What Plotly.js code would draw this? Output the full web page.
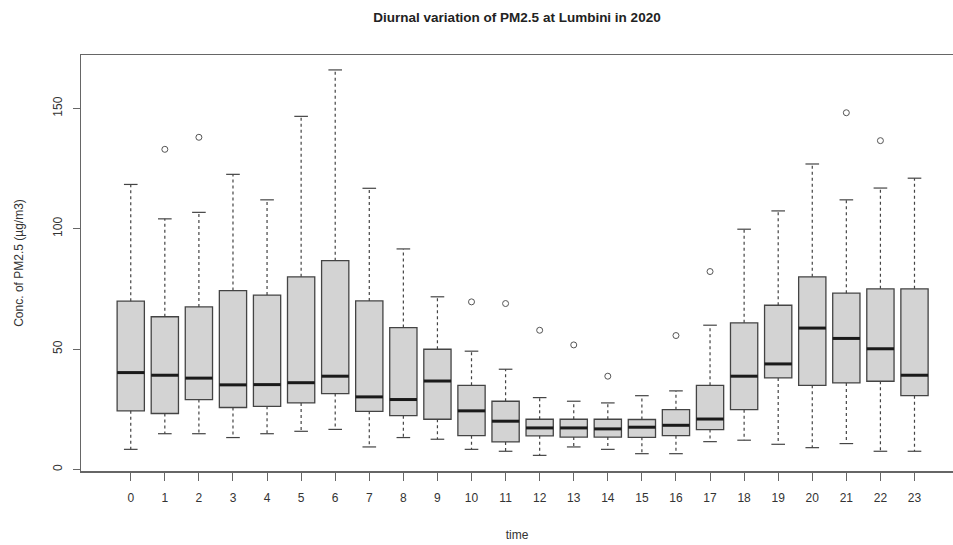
<!DOCTYPE html>
<html>
<head>
<meta charset="utf-8">
<script src="https://cdn.plot.ly/plotly-3.0.1.min.js"></script>
<style>html,body{margin:0;padding:0;background:#fff;}#chart{width:953px;height:545px;}</style>
</head>
<body>
<div id="chart"></div>
<script>
// Hour of day
const hours = [0,1,2,3,4,5,6,7,8,9,10,11,12,13,14,15,16,17,18,19,20,21,22,23];
const tickLabels = hours.map(String);
// Box statistics (µg/m3)
const lowerWhisker = [8.3,14.8,14.8,13.2,14.8,15.8,16.6,9.3,13.2,12.5,8.3,7.5,5.8,9.3,8.3,6.5,6.5,11.5,12.1,10.4,9.0,10.7,7.5,7.5];
const q1Values     = [24.3,23.2,29.0,25.7,26.2,27.6,31.5,24.1,22.3,20.8,14.0,11.4,13.9,13.4,13.4,13.3,14.0,16.5,24.8,38.0,34.9,35.9,36.6,30.6];
const medianValues = [40.2,39.1,37.9,35.1,35.2,36.0,38.7,30.1,29.0,36.7,24.3,20.0,17.2,17.2,16.8,17.5,18.3,20.9,38.7,43.8,58.7,54.4,50.1,39.1];
const q3Values     = [69.9,63.4,67.5,74.3,72.4,80.0,86.7,70.0,58.9,49.9,34.9,28.3,20.8,20.8,20.8,20.7,24.8,34.9,60.9,68.2,80.0,73.2,75.0,75.0];
const upperWhisker = [118.4,104.1,106.8,122.6,112.0,146.7,166.0,116.8,91.6,71.7,49.1,41.6,29.8,28.3,27.6,30.6,32.6,59.9,99.8,107.4,126.9,112.0,116.9,121.0];
// Outliers
const outlierHour  = [1,2,10,11,12,13,14,16,17,21,22];
const outlierValue = [133.0,138.0,69.6,68.9,57.8,51.7,38.7,55.6,82.2,148.2,136.6];

const BOXW = 0.8, CAPW = 0.4;

// whiskers (dashed)
const wx = [], wy = [];
hours.forEach((h, i) => {
  wx.push(h, h, null, h, h, null);
  wy.push(q3Values[i], upperWhisker[i], null, q1Values[i], lowerWhisker[i], null);
});
// staples
const cx = [], cy = [];
hours.forEach((h, i) => {
  cx.push(h - CAPW/2, h + CAPW/2, null, h - CAPW/2, h + CAPW/2, null);
  cy.push(upperWhisker[i], upperWhisker[i], null, lowerWhisker[i], lowerWhisker[i], null);
});
// medians (thick)
const mx = [], my = [];
hours.forEach((h, i) => {
  mx.push(h - BOXW/2, h + BOXW/2, null);
  my.push(medianValues[i], medianValues[i], null);
});

const traces = [
  {
    type: 'scatter', mode: 'lines', x: wx, y: wy,
    line: {color: '#444', width: 1.2, dash: '3px,3px'}, hoverinfo: 'skip', showlegend: false
  },
  {
    type: 'box', x: hours, q1: q1Values, median: medianValues, q3: q3Values,
    lowerfence: q1Values, upperfence: q3Values,
    width: BOXW, whiskerwidth: 0,
    fillcolor: '#d3d3d3', line: {color: '#444', width: 1.3},
    boxpoints: false, hoverinfo: 'skip', showlegend: false
  },
  {
    type: 'scatter', mode: 'lines', x: cx, y: cy,
    line: {color: '#444', width: 1.2}, hoverinfo: 'skip', showlegend: false
  },
  {
    type: 'scatter', mode: 'lines', x: mx, y: my,
    line: {color: '#1a1a1a', width: 3}, hoverinfo: 'skip', showlegend: false
  },
  {
    type: 'scatter', mode: 'markers', x: outlierHour, y: outlierValue,
    marker: {symbol: 'circle-open', size: 6, color: '#555', line: {width: 1}},
    hoverinfo: 'skip', showlegend: false
  }
];

const font = {family: 'Liberation Sans, Arial, sans-serif', size: 12, color: '#333'};

const layout = {
  width: 953, height: 545,
  margin: {l: 80.5, r: 0, t: 55, b: 74.3, pad: 0},
  paper_bgcolor: '#fff', plot_bgcolor: '#fff',
  font: font,
  showlegend: false,
  title: {
    text: '<b>Diurnal variation of PM2.5 at Lumbini in 2020</b>',
    font: {family: 'Liberation Sans, Arial, sans-serif', size: 13.5, color: '#222'},
    x: 0.5, xref: 'paper', xanchor: 'center', y: 0.968, yanchor: 'middle'
  },
  xaxis: {
    range: [-1.46, 24.13], tickmode: 'array', tickvals: hours, ticktext: tickLabels,
    showgrid: false, zeroline: false,
    showline: true, mirror: true, linecolor: '#666', linewidth: 1.5,
    ticks: 'outside', ticklen: 8, tickcolor: '#666', tickwidth: 1,
    tickfont: font, ticklabelstandoff: 7,
    title: {text: 'time', font: font, standoff: 26}
  },
  yaxis: {
    range: [-0.7, 172.2], tickmode: 'array', tickvals: [0, 50, 100, 150],
    showgrid: false, zeroline: false,
    showline: true, linecolor: '#666', linewidth: 1.5,
    ticks: 'outside', ticklen: 7, tickcolor: '#666', tickwidth: 1,
    tickangle: -90, tickfont: font, ticklabelstandoff: 6,
    title: {text: 'Conc. of PM2.5 (µg/m3)', font: font, standoff: 24}
  }
};

Plotly.newPlot('chart', traces, layout, {displayModeBar: false, staticPlot: true});
</script>
</body>
</html>
